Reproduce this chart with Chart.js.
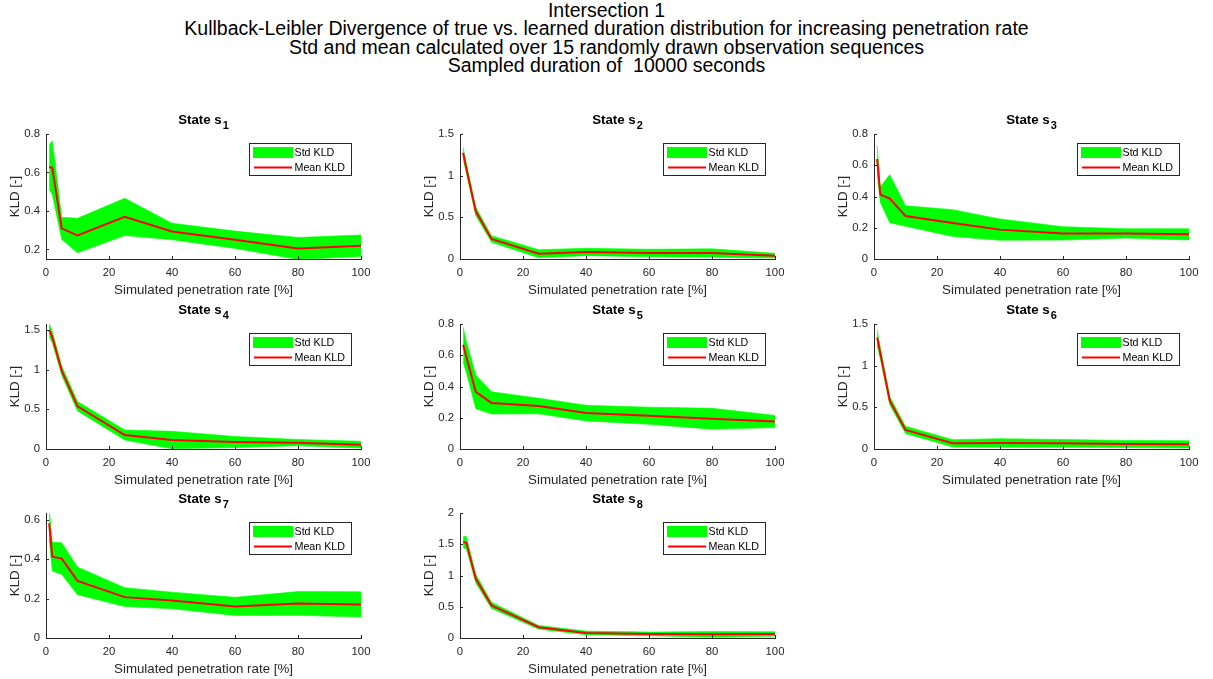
<!DOCTYPE html>
<html><head><meta charset="utf-8">
<script src="https://cdn.jsdelivr.net/npm/chart.js@4.4.0/dist/chart.umd.min.js"></script>
<style>
html,body{margin:0;padding:0;background:#fff;width:1213px;height:679px;overflow:hidden;position:relative;}
#title{position:absolute;left:0;top:0.5px;width:1213px;text-align:center;font-family:'Liberation Sans',Arial,sans-serif;font-size:19.5px;line-height:18.6px;color:#000;white-space:pre;}
canvas{position:absolute;}
</style></head><body>
<div id="title"></div>
<script>
// ---------------- data ----------------
const penetrationRate = [1, 2, 5, 10, 25, 40, 60, 80, 100];

const meanS1 = [0.628, 0.624, 0.309, 0.272, 0.369, 0.293, 0.250, 0.205, 0.219];
const stdS1  = [0.116, 0.140, 0.058, 0.090, 0.097, 0.043, 0.045, 0.057, 0.056];
const meanS2 = [1.272, 1.090, 0.572, 0.240, 0.064, 0.084, 0.072, 0.072, 0.040];
const stdS2  = [0.070, 0.060, 0.050, 0.040, 0.048, 0.044, 0.045, 0.050, 0.028];
const meanS3 = [0.640, 0.412, 0.386, 0.275, 0.230, 0.188, 0.164, 0.164, 0.158];
const stdS3  = [0.087, 0.050, 0.154, 0.066, 0.086, 0.068, 0.043, 0.030, 0.036];
const meanS4 = [1.500, 1.410, 0.987, 0.538, 0.176, 0.113, 0.088, 0.080, 0.055];
const stdS4  = [0.084, 0.070, 0.060, 0.060, 0.064, 0.110, 0.070, 0.040, 0.042];
const meanS5 = [0.667, 0.590, 0.366, 0.295, 0.275, 0.230, 0.213, 0.194, 0.176];
const stdS5  = [0.113, 0.100, 0.108, 0.071, 0.050, 0.050, 0.055, 0.067, 0.039];
const meanS6 = [1.336, 1.150, 0.580, 0.229, 0.068, 0.072, 0.068, 0.060, 0.056];
const stdS6  = [0.090, 0.070, 0.050, 0.044, 0.044, 0.052, 0.046, 0.043, 0.044];
const meanS7 = [0.580, 0.412, 0.402, 0.289, 0.207, 0.190, 0.160, 0.175, 0.170];
const stdS7  = [0.080, 0.073, 0.080, 0.070, 0.048, 0.042, 0.046, 0.060, 0.064];
const meanS8 = [1.532, 1.527, 0.952, 0.522, 0.172, 0.081, 0.065, 0.059, 0.065];
const stdS8  = [0.090, 0.100, 0.070, 0.050, 0.030, 0.030, 0.030, 0.045, 0.035];

const yMins = [0.15, 0, 0, 0, 0, 0, 0, 0];
const yMaxs = [0.8, 1.5, 0.8, 1.576, 0.8, 1.5, 0.633, 2];
const yTicksS1 = [0.2, 0.4, 0.6, 0.8];
const yTicksS2 = [0, 0.5, 1, 1.5];
const yTicksS3 = [0, 0.2, 0.4, 0.6, 0.8];
const yTicksS4 = [0, 0.5, 1, 1.5];
const yTicksS5 = [0, 0.2, 0.4, 0.6, 0.8];
const yTicksS6 = [0, 0.5, 1, 1.5];
const yTicksS7 = [0, 0.2, 0.4, 0.6];
const yTicksS8 = [0, 0.5, 1, 1.5, 2];
const xTicks = [0, 20, 40, 60, 80, 100];

const stateLabels = ['1', '2', '3', '4', '5', '6', '7', '8'];
const legendLabels = ['Std KLD', 'Mean KLD'];
const xAxisLabel = 'Simulated penetration rate [%]';
const yAxisLabel = 'KLD [-]';
const titleLines = [
  'Intersection 1',
  'Kullback-Leibler Divergence of true vs. learned duration distribution for increasing penetration rate',
  'Std and mean calculated over 15 randomly drawn observation sequences',
  'Sampled duration of  10000 seconds'
];

// ---------------- layout / style ----------------
const FONT = "'Liberation Sans', Arial, Helvetica, sans-serif";
const AXIS = '#262626';
const GREEN = '#00ff00';
const RED = '#ff0000';
const colLefts = [46, 460, 874];
const rowTops = [134, 324, 513];
const PW = 315, PH = 125;
const PAD_L = 46, PAD_T = 34, PAD_R = 20, PAD_B = 42;

document.getElementById('title').textContent = titleLines.join('\n');

const means = [meanS1, meanS2, meanS3, meanS4, meanS5, meanS6, meanS7, meanS8];
const stds = [stdS1, stdS2, stdS3, stdS4, stdS5, stdS6, stdS7, stdS8];
const yTickSets = [yTicksS1, yTicksS2, yTicksS3, yTicksS4, yTicksS5, yTicksS6, yTicksS7, yTicksS8];

const matlabLook = {
  id: 'matlabLook',
  afterDraw(chart, args, opts) {
    const ctx = chart.ctx, a = chart.chartArea;
    const xs = chart.scales.x, ys = chart.scales.y;
    ctx.save();
    // inward tick marks
    ctx.strokeStyle = AXIS; ctx.lineWidth = 1;
    ctx.beginPath();
    xs.ticks.forEach(t => {
      const px = Math.round(xs.getPixelForValue(t.value)) + 0.5;
      ctx.moveTo(px, a.bottom); ctx.lineTo(px, a.bottom - 3);
    });
    ys.ticks.forEach(t => {
      const py = Math.round(ys.getPixelForValue(t.value)) + 0.5;
      ctx.moveTo(a.left, py); ctx.lineTo(a.left + 3, py);
    });
    ctx.stroke();

    // subplot title with subscript
    const mainTxt = 'State s';
    ctx.fillStyle = '#000';
    ctx.textBaseline = 'alphabetic';
    ctx.textAlign = 'left';
    ctx.font = 'bold 13.3px ' + FONT;
    const w1 = ctx.measureText(mainTxt).width;
    ctx.font = 'bold 11px ' + FONT;
    const w2 = ctx.measureText(opts.sub).width;
    const x0 = (a.left + a.right) / 2 - (w1 + 1 + w2) / 2;
    ctx.font = 'bold 13.3px ' + FONT;
    ctx.fillText(mainTxt, x0, a.top - 10);
    ctx.font = 'bold 11px ' + FONT;
    ctx.fillText(opts.sub, x0 + w1 + 1, a.top - 5);

    // legend
    const bw = 102, bh = 32;
    const bx = Math.round(a.right - 10 - bw) + 0.5, by = Math.round(a.top + 9) + 0.5;
    ctx.fillStyle = '#fff';
    ctx.fillRect(bx, by, bw, bh);
    ctx.strokeStyle = AXIS; ctx.lineWidth = 1;
    ctx.strokeRect(bx, by, bw, bh);
    ctx.fillStyle = GREEN;
    ctx.fillRect(bx + 3.5, by + 3.5, 40, 11);
    ctx.strokeStyle = RED; ctx.lineWidth = 2;
    ctx.beginPath();
    ctx.moveTo(bx + 4.5, by + 24); ctx.lineTo(bx + 42.5, by + 24);
    ctx.stroke();
    ctx.fillStyle = '#000';
    ctx.font = '10.7px ' + FONT;
    ctx.textBaseline = 'middle';
    ctx.fillText(legendLabels[0], bx + 45, by + 9.5);
    ctx.fillText(legendLabels[1], bx + 45, by + 25);
    ctx.restore();
  }
};

for (let i = 0; i < 8; i++) {
  const col = i % 3, row = Math.floor(i / 3);
  const cv = document.createElement('canvas');
  const W = PAD_L + PW + PAD_R, H = PAD_T + PH + PAD_B;
  cv.width = W; cv.height = H;
  cv.style.width = W + 'px'; cv.style.height = H + 'px';
  cv.style.left = (colLefts[col] - PAD_L) + 'px';
  cv.style.top = (rowTops[row] - PAD_T) + 'px';
  document.body.appendChild(cv);

  const m = means[i], s = stds[i];
  const meanPts = penetrationRate.map((p, k) => ({ x: p, y: m[k] }));
  const upPts = penetrationRate.map((p, k) => ({ x: p, y: m[k] + s[k] }));
  const loPts = penetrationRate.map((p, k) => ({ x: p, y: m[k] - s[k] }));
  const yt = yTickSets[i];

  new Chart(cv, {
    type: 'line',
    data: {
      datasets: [
        { label: legendLabels[1], data: meanPts, borderColor: RED, borderWidth: 2, pointRadius: 0, fill: false, tension: 0 },
        { label: legendLabels[0], data: upPts, borderColor: GREEN, borderWidth: 0.6, pointRadius: 0, backgroundColor: GREEN, fill: '+1', tension: 0 },
        { label: 'lower', data: loPts, borderColor: GREEN, borderWidth: 0.6, pointRadius: 0, fill: false, tension: 0 }
      ]
    },
    options: {
      responsive: false,
      animation: false,
      devicePixelRatio: 1,
      layout: { padding: { left: 0, top: PAD_T, right: PAD_R, bottom: 0 } },
      plugins: {
        legend: { display: false },
        tooltip: { enabled: false },
        title: { display: false },
        matlabLook: { sub: stateLabels[i] }
      },
      scales: {
        x: {
          type: 'linear', min: 0, max: 100,
          afterBuildTicks: sc => { sc.ticks = xTicks.map(v => ({ value: v })); },
          afterFit: sc => { sc.height = PAD_B; },
          grid: { display: false, drawTicks: false },
          border: { display: true, color: AXIS, width: 1 },
          ticks: { color: AXIS, font: { family: FONT, size: 11.3 }, padding: 7, maxRotation: 0, callback: v => String(v) },
          title: { display: true, text: xAxisLabel, color: AXIS, font: { family: FONT, size: 13.3 }, padding: { top: 0, bottom: 3 } }
        },
        y: {
          type: 'linear', min: yMins[i], max: yMaxs[i],
          afterBuildTicks: sc => { sc.ticks = yt.map(v => ({ value: v })); },
          afterFit: sc => { sc.width = PAD_L; },
          grid: { display: false, drawTicks: false },
          border: { display: true, color: AXIS, width: 1 },
          ticks: { color: AXIS, font: { family: FONT, size: 11.3 }, padding: 6, callback: v => String(+(+v).toFixed(3)) },
          title: { display: true, text: yAxisLabel, color: AXIS, font: { family: FONT, size: 13.3 }, padding: { top: 7, bottom: 0 } }
        }
      }
    },
    plugins: [matlabLook]
  });
}
</script>
</body></html>
